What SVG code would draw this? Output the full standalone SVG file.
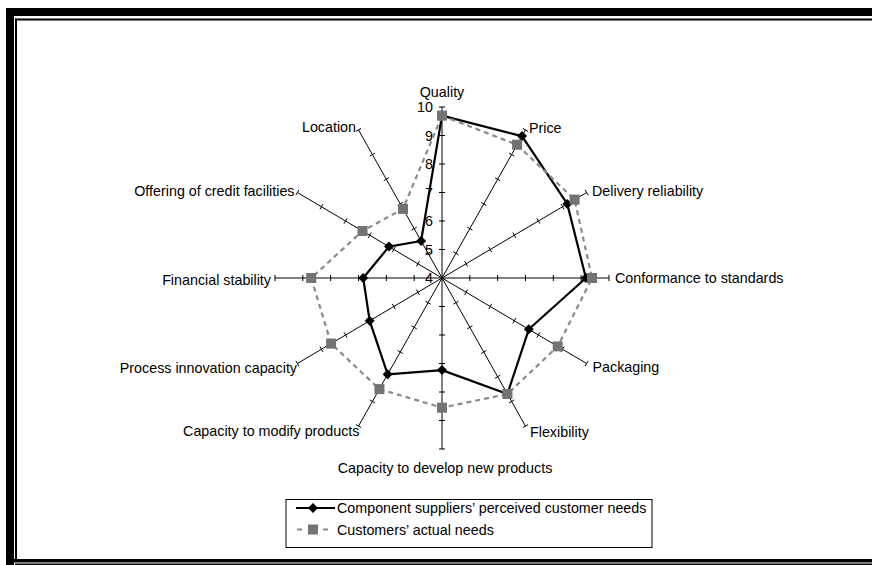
<svg xmlns="http://www.w3.org/2000/svg" xmlns:xlink="http://www.w3.org/1999/xlink" width="872" height="565" viewBox="0 0 872 565">
<style>
text{font-family:"Liberation Sans",Arial,sans-serif;font-size:14.3px;fill:#000}
.ax{fill:none;stroke:#000;stroke-width:1;vector-effect:non-scaling-stroke}
.s1{fill:none;stroke:#000;stroke-width:2.2;stroke-linejoin:round}
.s2{fill:none;stroke:#8a8a8a;stroke-width:2.2;stroke-dasharray:5 4}
.e{text-anchor:end}
.m{text-anchor:middle}
</style>
<defs>
<path id="axis" class="ax" d="M0 0V-167M-3 -27.83H3M-3 -55.67H3M-3 -83.5H3M-3 -111.33H3M-3 -139.17H3M-3 -167H3"/>
<marker id="mDia" markerUnits="userSpaceOnUse" markerWidth="12" markerHeight="12" refX="6" refY="6" overflow="visible">
<path d="M6 1L11 6L6 11L1 6Z" fill="#000" stroke="none"/>
</marker>
<marker id="mSq" markerUnits="userSpaceOnUse" markerWidth="12" markerHeight="12" refX="6" refY="6" overflow="visible">
<rect x="1" y="1" width="10" height="10" fill="#737373" stroke="none"/>
</marker>
</defs>
<rect width="872" height="565" fill="#fff"/>
<g id="border" fill="#000">
<rect x="6" y="8" width="866" height="8"/>
<rect x="6" y="8" width="8" height="557"/>
<rect x="15" y="18.5" width="857" height="2"/>
<rect x="15" y="18.5" width="2" height="542"/>
<rect x="6" y="559" width="866" height="3.5"/>
<rect x="15" y="563.5" width="857" height="1.5"/>
</g>
<g id="axes" transform="translate(442 278) scale(1 1.024)">
<use xlink:href="#axis"/>
<use xlink:href="#axis" transform="rotate(30)"/>
<use xlink:href="#axis" transform="rotate(60)"/>
<use xlink:href="#axis" transform="rotate(90)"/>
<use xlink:href="#axis" transform="rotate(120)"/>
<use xlink:href="#axis" transform="rotate(150)"/>
<use xlink:href="#axis" transform="rotate(180)"/>
<use xlink:href="#axis" transform="rotate(210)"/>
<use xlink:href="#axis" transform="rotate(240)"/>
<use xlink:href="#axis" transform="rotate(270)"/>
<use xlink:href="#axis" transform="rotate(300)"/>
<use xlink:href="#axis" transform="rotate(330)"/>
</g>
<g id="scale-labels">
<text class="e" x="433" y="112">10</text>
<text class="e" x="433" y="140.5">9</text>
<text class="e" x="433" y="169">8</text>
<text class="e" x="433" y="197.5">7</text>
<text class="e" x="433" y="226">6</text>
<text class="e" x="433" y="254.5">5</text>
<text class="e" x="433" y="283">4</text>
</g>
<g id="series-perceived">
<polygon class="s1" points="442,115.6 522,136.1 567.3,203.9 585.9,278 528.8,329.3 507.4,394 442,370.1 387.7,374.3 369.7,320.8 363.2,278 389,246.6 421.1,241" marker-start="url(#mDia)" marker-mid="url(#mDia)"/>
</g>
<g id="series-actual">
<polygon class="s2" points="442,115.6 517.1,144.7 574.6,199.6 592,278 557.7,346.4 507.4,394 442,407.7 379.4,389.1 331.1,343.6 311.2,278 362.5,231 403,208.9" marker-start="url(#mSq)" marker-mid="url(#mSq)"/>
</g>
<g id="axis-labels">
<text class="m" x="442" y="97">Quality</text>
<text x="529" y="133">Price</text>
<text x="592" y="196">Delivery reliability</text>
<text x="615" y="283">Conformance to standards</text>
<text x="592.5" y="372">Packaging</text>
<text x="530" y="437">Flexibility</text>
<text class="m" x="445" y="473">Capacity to develop new products</text>
<text class="e" x="359.5" y="435.5">Capacity to modify products</text>
<text class="e" x="297" y="373">Process innovation capacity</text>
<text class="e" x="271" y="285">Financial stability</text>
<text class="e" x="294.5" y="196">Offering of credit facilities</text>
<text class="e" x="356" y="132">Location</text>
</g>
<g id="legend">
<rect x="286" y="499.5" width="366" height="48" fill="#fff" stroke="#000" stroke-width="1"/>
<line x1="296" y1="508" x2="335" y2="508" stroke="#000" stroke-width="2.2"/>
<path d="M313 503L318 508L313 513L308 508Z" fill="#000"/>
<text x="337" y="513">Component suppliers’ perceived customer needs</text>
<line x1="297" y1="529.5" x2="335" y2="529.5" stroke="#8a8a8a" stroke-width="2.2" stroke-dasharray="5 8"/>
<rect x="308" y="524.5" width="10" height="10" fill="#737373"/>
<text x="337" y="534.5">Customers’ actual needs</text>
</g>
</svg>
